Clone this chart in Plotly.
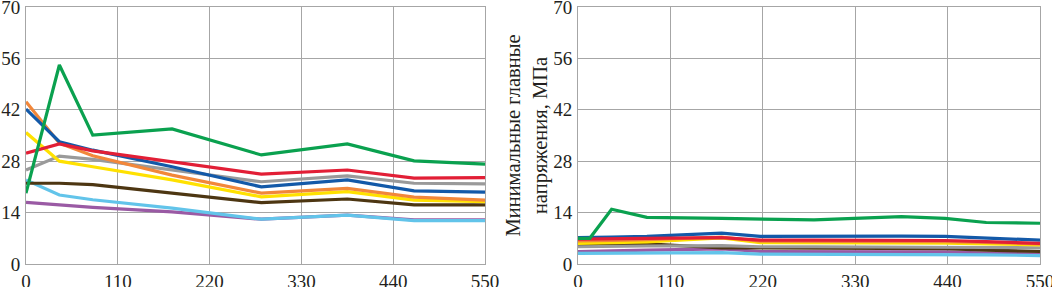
import plotly.graph_objects as go

# Left panel (max principal stresses)
x_left = [0, 40, 80, 175, 282, 385, 465, 550]
left_series = {
    "green":  [19.3, 54.2, 35.1, 36.8, 29.7, 32.7, 28.1, 27.2],
    "red":    [30.2, 32.7, 30.8, 27.9, 24.5, 25.6, 23.4, 23.5],
    "blue":   [42.2, 33.3, 31.0, 26.5, 21.0, 22.9, 19.9, 19.6],
    "orange": [44.2, 32.9, 29.5, 24.2, 19.3, 20.6, 18.2, 17.4],
    "gray":   [25.6, 29.4, 28.5, 25.6, 22.4, 24.0, 22.0, 21.8],
    "yellow": [35.8, 28.0, 26.5, 22.9, 18.3, 19.7, 17.4, 17.0],
    "brown":  [22.0, 22.0, 21.6, 19.3, 16.7, 17.7, 16.1, 16.1],
    "lblue":  [22.9, 18.8, 17.5, 15.2, 12.2, 13.3, 11.8, 11.8],
    "purple": [16.8, 16.0, 15.4, 14.2, 12.2, 13.3, 12.0, 12.0],
}

# Right panel (min principal stresses)
x_right = [0, 14, 40, 82, 171, 217, 281, 385, 437, 486, 550]
right_series = {
    "green":  [7.0, 7.0, 14.9, 12.7, 12.4, 12.3, 12.0, 12.9, 12.4, 11.3, 11.1],
    "red":    [6.8, 6.8, 6.9, 7.0, 7.2, 6.5, 6.5, 6.5, 6.4, 6.1, 5.6],
    "blue":   [7.2, 7.2, 7.3, 7.5, 8.4, 7.5, 7.6, 7.6, 7.5, 7.1, 6.5],
    "orange": [6.3, 6.3, 6.4, 6.6, 7.3, 6.2, 6.2, 6.2, 6.1, 5.9, 5.5],
    "gray":   [4.7, 4.7, 4.8, 4.9, 5.0, 4.7, 4.7, 4.7, 4.6, 4.5, 4.4],
    "yellow": [5.6, 5.6, 5.8, 6.0, 7.1, 5.8, 5.8, 5.8, 5.7, 5.5, 5.2],
    "brown":  [5.2, 5.2, 5.4, 5.5, 4.4, 4.4, 4.4, 4.3, 4.2, 3.8, 3.4],
    "lblue":  [2.9, 2.9, 3.0, 3.0, 3.1, 2.7, 2.7, 2.7, 2.6, 2.5, 2.3],
    "purple": [3.4, 3.4, 3.6, 3.8, 4.1, 3.4, 3.4, 3.4, 3.3, 3.0, 2.7],
}

colors = {
    "green": "#0aa14f", "red": "#e21f36", "blue": "#1359a8",
    "orange": "#f2873a", "gray": "#9a9a9a", "yellow": "#ffe100",
    "brown": "#4d3612", "lblue": "#62c4ea", "purple": "#9a5aa4",
}
order = ["purple", "lblue", "brown", "gray", "yellow", "orange", "blue", "red", "green"]

y_ticks = [0, 14, 28, 42, 56, 70]
x_ticks = [0, 110, 220, 330, 440, 550]

fig = go.Figure()
for name in order:
    fig.add_trace(go.Scatter(x=x_left, y=left_series[name], mode="lines",
                             line=dict(color=colors[name], width=3.2),
                             xaxis="x", yaxis="y", showlegend=False))
for name in order:
    fig.add_trace(go.Scatter(x=x_right, y=right_series[name], mode="lines",
                             line=dict(color=colors[name], width=3.2),
                             xaxis="x2", yaxis="y2", showlegend=False))

W, H = 1070, 300
TOP_SHIFT = 13  # figure is shifted up so its top margin lies above the window

fam = "Liberation Serif, Times New Roman, serif"
font = dict(family=fam, size=19, color="#231f20")
grid = "#a6a6a6"
axis_common = dict(showgrid=True, gridcolor=grid, gridwidth=1, showline=True,
                   linecolor=grid, linewidth=1, mirror=True, zeroline=False,
                   ticks="", tickfont=font, automargin=False)

fig.update_layout(
    width=W, height=H,
    margin=dict(l=0, r=0, t=7 + TOP_SHIFT, b=H - TOP_SHIFT - 264),
    paper_bgcolor="white", plot_bgcolor="white",
    font=font,
    xaxis=dict(domain=[26/W, 485/W], range=[0, 550], tickvals=x_ticks,
               anchor="y", ticklabelstandoff=0, **axis_common),
    yaxis=dict(domain=[0, 1], range=[0, 70], tickvals=y_ticks,
               anchor="x", ticklabelstandoff=1, **axis_common),
    xaxis2=dict(domain=[578/W, 1040/W], range=[0, 550], tickvals=x_ticks,
                anchor="y2", ticklabelstandoff=0, **axis_common),
    yaxis2=dict(domain=[0, 1], range=[0, 70], tickvals=y_ticks, anchor="x2",
                ticklabelstandoff=1,
                title=dict(text="Минимальные главные<br>напряжения, МПа",
                           font=dict(family=fam, size=20.5, color="#231f20"),
                           standoff=0),
                **axis_common),
)

fig.write_html("out.html", config={"displayModeBar": False})

with open("out.html", "r", encoding="utf-8") as f:
    html = f.read()
css = ("<style>html,body{margin:0;padding:0;overflow:hidden;}"
       "body>div{margin-top:-%dpx;}</style>" % TOP_SHIFT)
html = html.replace("<head>", "<head>" + css, 1)
with open("out.html", "w", encoding="utf-8") as f:
    f.write(html)
